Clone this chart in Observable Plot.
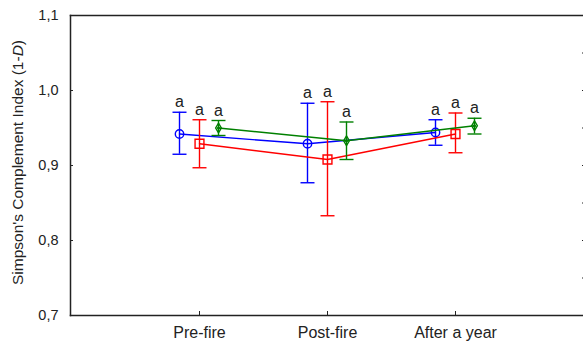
<!DOCTYPE html>
<html>
<head>
<meta charset="utf-8">
<script src="https://cdn.jsdelivr.net/npm/d3@7"></script>
<script src="https://cdn.jsdelivr.net/npm/@observablehq/plot@0.6"></script>
<style>
  html, body { margin: 0; padding: 0; background: #fff; }
  #chart svg { display: block; }
</style>
</head>
<body>
<div id="chart"></div>
<script>
// ---- data ----
const groups = ["Pre-fire", "Post-fire", "After a year"];
const seriesNames = ["Series 1", "Series 2", "Series 3"];
const meanS1 = [0.942, 0.929, 0.944];
const lowS1  = [0.915, 0.877, 0.927];
const highS1 = [0.971, 0.983, 0.961];
const meanS2 = [0.929, 0.908, 0.942];
const lowS2  = [0.897, 0.833, 0.917];
const highS2 = [0.961, 0.985, 0.970];
const meanS3 = [0.950, 0.933, 0.953];
const lowS3  = [0.940, 0.908, 0.942];
const highS3 = [0.960, 0.958, 0.963];
const lettersS1 = ["a", "a", "a"];
const lettersS2 = ["a", "a", "a"];
const lettersS3 = ["a", "a", "a"];
const yTicks = [0.7, 0.8, 0.9, 1.0, 1.1];
const yMinorTicks = [0.7, 0.75, 0.8, 0.85, 0.9, 0.95, 1.0, 1.05, 1.1];
const yTitle = "Simpson's Complement Index (1-";

// ---- build table ----
const means = [meanS1, meanS2, meanS3];
const lows = [lowS1, lowS2, lowS3];
const highs = [highS1, highS2, highS3];
const letters = [lettersS1, lettersS2, lettersS3];
const colors = ["#0000ff", "#ff0000", "#008000"];
const symbols = ["circle", "square", "diamond"];
const radii = [4.2, 5, 3];
const offsets = [-20, 0, 19];

const tables = seriesNames.map((s, si) => groups.map((g, gi) => ({
  series: s, group: g, mean: means[si][gi], low: lows[si][gi], high: highs[si][gi], letter: letters[si][gi]
})));

// horizontal cap symbol for error bars
const capSymbol = {draw(ctx) { ctx.moveTo(-7, 0); ctx.lineTo(7, 0); }};

const fmt = d => d.toFixed(1).replace(".", ",");
const font = "Liberation Sans, Arial, sans-serif";

const seriesMarks = tables.flatMap((data, si) => {
  const c = colors[si], dx = offsets[si];
  const marks = [
    Plot.line(data, {x: "group", y: "mean", stroke: c, strokeWidth: 1.4, dx}),
    Plot.ruleX(data, {x: "group", y1: "low", y2: "high", stroke: c, strokeWidth: 1.4, dx}),
    Plot.dot(data, {x: "group", y: "high", stroke: c, fill: "none", strokeWidth: 1.4, symbol: capSymbol, r: 5, dx}),
    Plot.dot(data, {x: "group", y: "low", stroke: c, fill: "none", strokeWidth: 1.4, symbol: capSymbol, r: 5, dx}),
    Plot.dot(data, {x: "group", y: "mean", stroke: c, fill: "none", strokeWidth: 1.4, symbol: symbols[si], r: radii[si], dx}),
    Plot.text(data, {x: "group", y: "high", text: "letter", dx, dy: -5, lineAnchor: "bottom", textAnchor: "middle", fontSize: 16, fill: "#222"})
  ];
  if (si === 2) marks.push(Plot.dot(data, {x: "group", y: "mean", fill: c, r: 1.6, dx}));
  return marks;
});

const chart = Plot.plot({
  width: 583,
  height: 349,
  marginLeft: 70,
  marginRight: 0,
  marginTop: 15,
  marginBottom: 34,
  style: {fontFamily: font, fontSize: "14px", color: "#222", background: "#fff"},
  x: {type: "point", domain: groups, padding: 1, range: [70, 584], label: null},
  y: {domain: [0.7, 1.1], label: null},
  marks: [
    Plot.frame({anchor: "top", stroke: "#222", strokeWidth: 1.5}),
    Plot.frame({anchor: "bottom", stroke: "#222", strokeWidth: 1.5}),
    Plot.frame({anchor: "left", stroke: "#222", strokeWidth: 1.5}),
    Plot.axisY({anchor: "left", ticks: yTicks, tickSize: -3, tickFormat: () => "", stroke: "#222"}),
    Plot.axisY({anchor: "left", ticks: yTicks, tickSize: 0, tickPadding: 12, tickFormat: fmt, fontSize: 14.5, fill: "#222"}),
    Plot.axisY({anchor: "right", ticks: yMinorTicks, tickSize: -2, tickFormat: () => "", stroke: "#222"}),
    Plot.axisX({anchor: "bottom", tickSize: -4, tickFormat: () => "", stroke: "#222"}),
    Plot.axisX({anchor: "bottom", tickSize: 0, tickPadding: 11, fontSize: 16, fill: "#222"}),
    Plot.text([yTitle], {frameAnchor: "left", dx: -52, dy: -3, rotate: -90, textAnchor: "middle", fontSize: 15.5, fill: "#222", text: d => d}),
    ...seriesMarks
  ]
});
document.getElementById("chart").appendChild(chart);

// italic "D" and closing parenthesis for the y title
d3.select(chart).selectAll("text").filter(function () { return this.textContent === yTitle; })
  .each(function () {
    const t = d3.select(this);
    t.append("tspan").attr("font-style", "italic").text("D");
    t.append("tspan").text(")");
  });
</script>
</body>
</html>
